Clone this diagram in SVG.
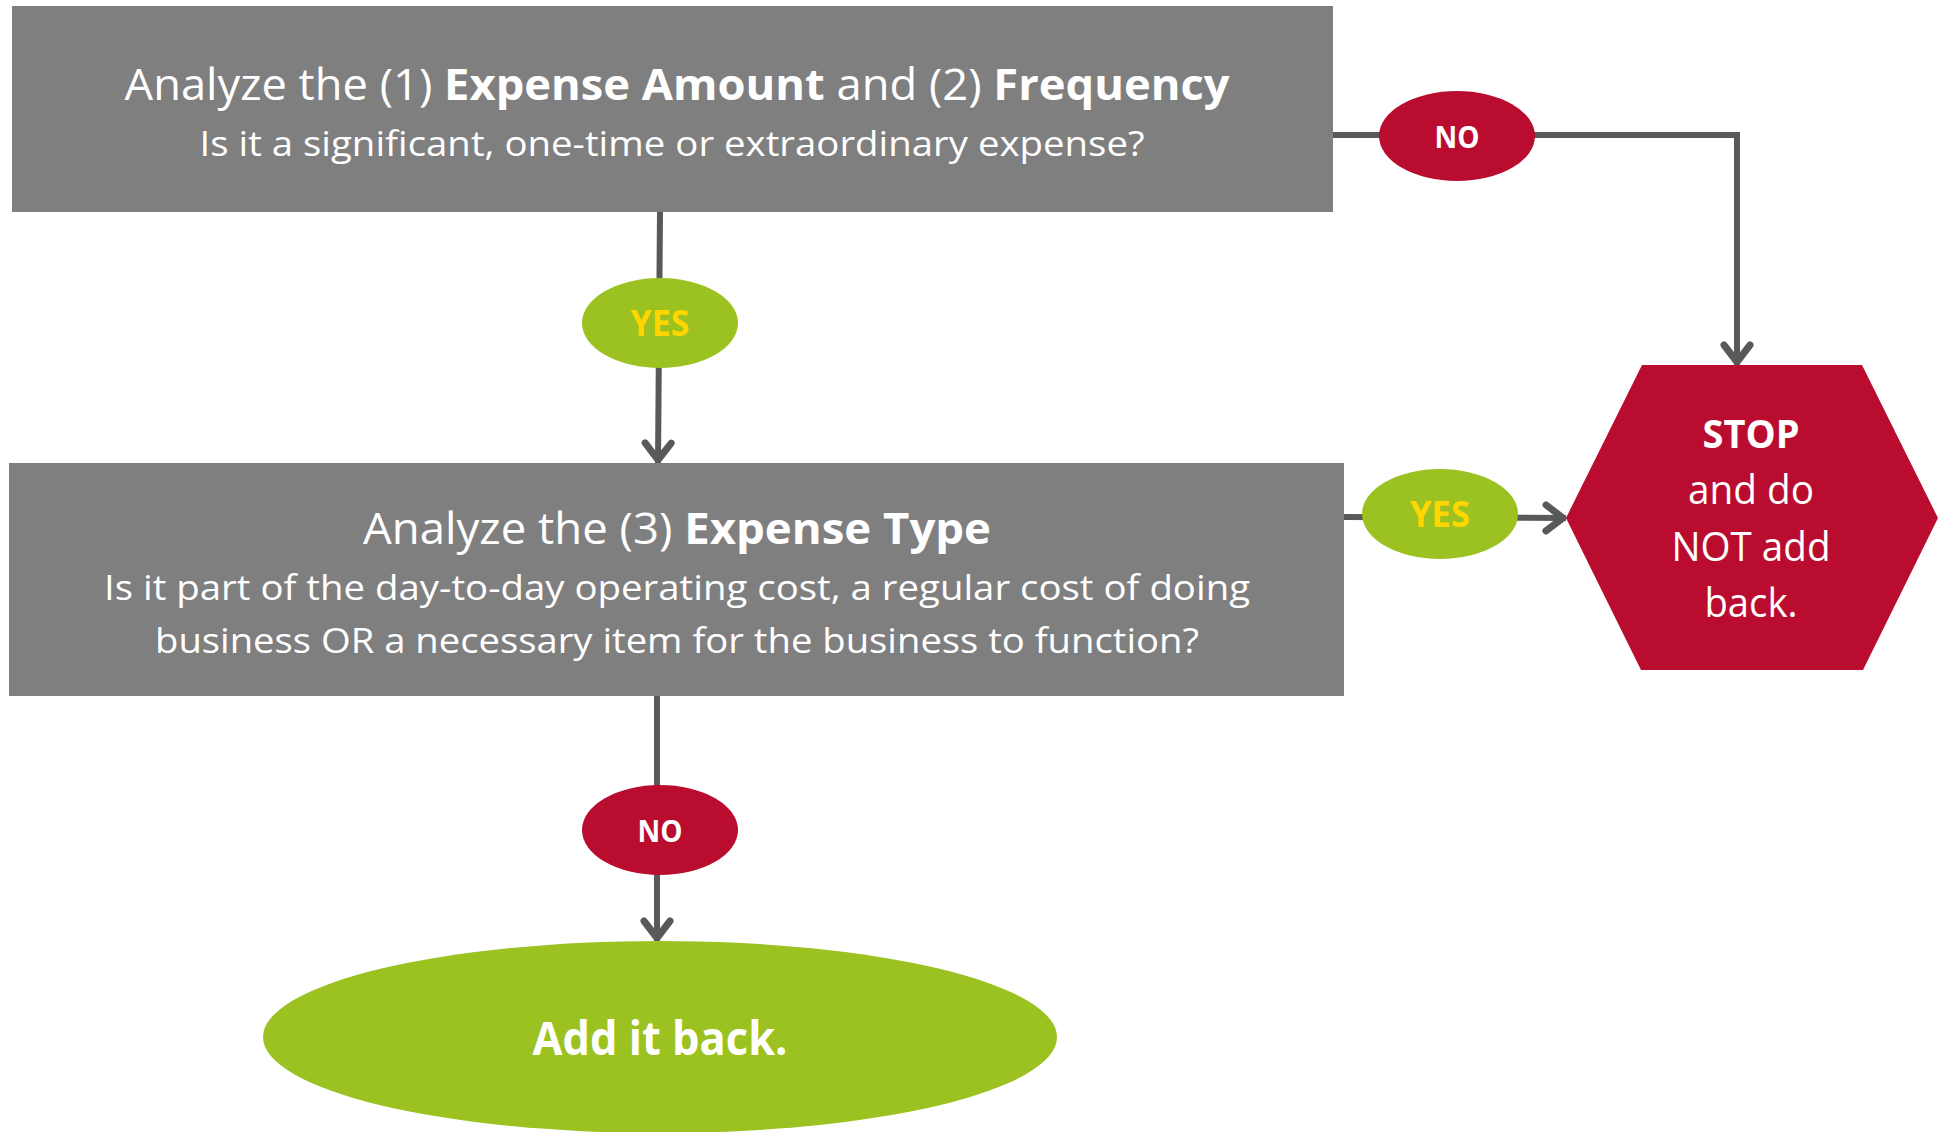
<svg xmlns="http://www.w3.org/2000/svg" width="1944" height="1132" viewBox="0 0 1944 1132">
  <style>
    text { font-family: "Open Sans", "Noto Sans", "Liberation Sans", sans-serif; text-anchor: middle; }
    .box { fill: #7f7f7f; }
    .red { fill: #ba0c2f; }
    .green { fill: #9bc220; }
    .title { font-size: 43px; fill: #ffffff; }
    .body { font-size: 35px; fill: #ffffff; }
    .b { font-weight: 700; }
    .yes { font-size: 35px; font-weight: 700; fill: #ffd600; }
    .no { font-size: 30px; font-weight: 700; fill: #ffffff; }
    .stop { font-size: 40px; fill: #ffffff; }
    .final { font-size: 47px; font-weight: 700; fill: #ffffff; }
    .wire { fill: none; stroke: #595959; stroke-width: 6; }
  </style>
  <defs>
    <marker id="arrow" markerUnits="userSpaceOnUse" viewBox="0 0 40 40" markerWidth="40" markerHeight="40" refX="25" refY="20" orient="auto">
      <path d="M5,7 L22,20 L5,33" fill="none" stroke="#595959" stroke-width="7" stroke-linecap="round" stroke-linejoin="round"/>
    </marker>
  </defs>

  <!-- connectors -->
  <g id="connectors">
    <path class="wire" d="M660,212 L658,463" marker-end="url(#arrow)"/>
    <path class="wire" d="M1333,135 L1737,135 L1737,365" marker-end="url(#arrow)"/>
    <path class="wire" d="M1344,517 L1566,518" marker-end="url(#arrow)"/>
    <path class="wire" d="M657,696 L657,941" marker-end="url(#arrow)"/>
  </g>

  <!-- step 1: amount and frequency -->
  <g id="step-amount-frequency">
    <rect class="box" x="12" y="6" width="1321" height="206"/>
    <text class="title" x="677" y="100" textLength="1105" lengthAdjust="spacingAndGlyphs">Analyze the (1) <tspan class="b">Expense Amount</tspan> and (2) <tspan class="b">Frequency</tspan></text>
    <text class="body" x="672" y="156" textLength="945" lengthAdjust="spacingAndGlyphs">Is it a significant, one-time or extraordinary expense?</text>
  </g>

  <!-- step 2: expense type -->
  <g id="step-expense-type">
    <rect class="box" x="9" y="463" width="1335" height="233"/>
    <text class="title" x="677" y="544" textLength="628" lengthAdjust="spacingAndGlyphs">Analyze the (3) <tspan class="b">Expense Type</tspan></text>
    <text class="body" x="677" y="600" textLength="1146" lengthAdjust="spacingAndGlyphs">Is it part of the day-to-day operating cost, a regular cost of doing</text>
    <text class="body" x="677" y="653" textLength="1044" lengthAdjust="spacingAndGlyphs">business OR a necessary item for the business to function?</text>
  </g>

  <!-- decision labels -->
  <g id="label-yes-1">
    <ellipse class="green" cx="660" cy="323" rx="78" ry="45"/>
    <text class="yes" x="660" y="336" textLength="59" lengthAdjust="spacingAndGlyphs">YES</text>
  </g>
  <g id="label-no-1">
    <ellipse class="red" cx="1457" cy="136" rx="78" ry="45"/>
    <text class="no" x="1457" y="148" textLength="45" lengthAdjust="spacingAndGlyphs">NO</text>
  </g>
  <g id="label-yes-2">
    <ellipse class="green" cx="1440" cy="514" rx="78" ry="45"/>
    <text class="yes" x="1440" y="527" textLength="60" lengthAdjust="spacingAndGlyphs">YES</text>
  </g>
  <g id="label-no-2">
    <ellipse class="red" cx="660" cy="830" rx="78" ry="45"/>
    <text class="no" x="660" y="842" textLength="45" lengthAdjust="spacingAndGlyphs">NO</text>
  </g>

  <!-- outcome: stop -->
  <g id="outcome-stop">
    <polygon class="red" points="1566,518 1642,365 1862,365 1938,518 1863,670 1641,670"/>
    <text class="stop b" x="1751" y="448" textLength="97" lengthAdjust="spacingAndGlyphs">STOP</text>
    <text class="stop" x="1751" y="504" textLength="126" lengthAdjust="spacingAndGlyphs">and do</text>
    <text class="stop" x="1751" y="561" textLength="159" lengthAdjust="spacingAndGlyphs">NOT add</text>
    <text class="stop" x="1751" y="617" textLength="93" lengthAdjust="spacingAndGlyphs">back.</text>
  </g>

  <!-- outcome: add back -->
  <g id="outcome-add-back">
    <ellipse class="green" cx="660" cy="1037" rx="397" ry="96"/>
    <text class="final" x="660" y="1055" textLength="255" lengthAdjust="spacingAndGlyphs">Add it back.</text>
  </g>
</svg>
